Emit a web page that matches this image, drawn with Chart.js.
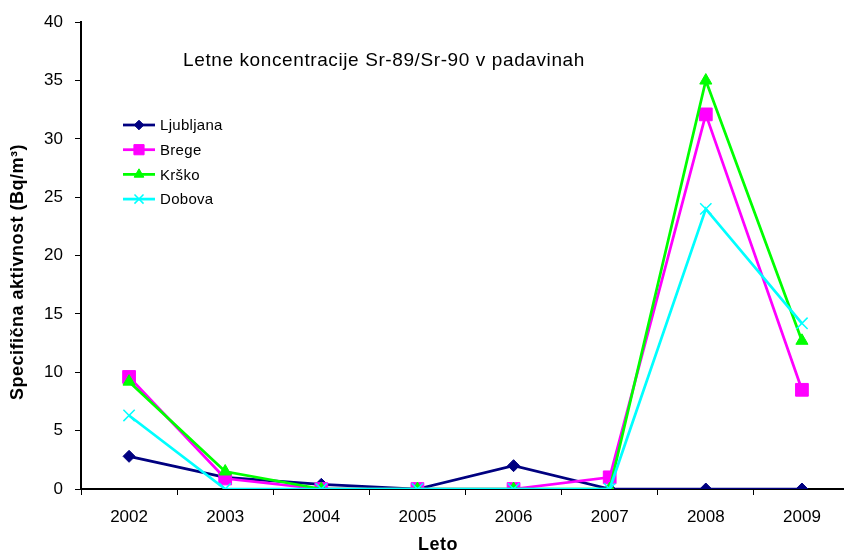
<!DOCTYPE html>
<html>
<head>
<meta charset="utf-8">
<script src="https://cdn.jsdelivr.net/npm/chart.js@4.4.1/dist/chart.umd.min.js"></script>
<style>
  html, body { margin: 0; padding: 0; background: #fff; overflow: hidden; }
  canvas { display: block; }
</style>
</head>
<body>
<canvas id="chart" width="860" height="553"></canvas>
<script>
// data
const years = ['2002', '2003', '2004', '2005', '2006', '2007', '2008', '2009'];
const ljubljana = [2.8, 1.0, 0.4, 0, 2.0, 0, 0, 0];
const brege = [9.6, 0.9, 0, 0, 0, 1.0, 32.1, 8.5];
const krsko = [9.2, 1.5, 0, 0, 0, 0, 35.0, 12.7];
const dobova = [6.3, 0, 0, 0, 0, 0, 24.0, 14.2];
const yTicks = [0, 5, 10, 15, 20, 25, 30, 35, 40];

const chartTitle = 'Letne koncentracije Sr-89/Sr-90 v padavinah';
const xTitle = 'Leto';
const yTitle = 'Specifična aktivnost (Bq/m³)';
const FONT = '"Liberation Sans", Arial, sans-serif';

const series = [
  { label: 'Ljubljana', data: ljubljana, color: '#000080', style: 'rectRot', radius: 6, order: 4 },
  { label: 'Brege', data: brege, color: '#FF00FF', style: 'rect', radius: 9, order: 3 },
  { label: 'Krško', data: krsko, color: '#00FF00', style: 'triangle', radius: 7, order: 2 },
  { label: 'Dobova', data: dobova, color: '#00FFFF', style: 'crossRot', radius: 8, order: 1 }
];

// title, legend and axis titles drawn by hand (spaced-out Excel look)
const insideText = {
  id: 'insideText',
  afterDraw(chart) {
    const ctx = chart.ctx;
    ctx.save();
    ctx.fillStyle = '#000';
    ctx.textBaseline = 'middle';

    ctx.font = '19px ' + FONT;
    ctx.letterSpacing = '0.6px';
    ctx.textAlign = 'center';
    ctx.fillText(chartTitle, 384, 61);

    ctx.font = 'bold 18px ' + FONT;
    ctx.letterSpacing = '0.5px';
    ctx.fillText(xTitle, 438, 545);
    ctx.save();
    ctx.translate(18, 272);
    ctx.rotate(-Math.PI / 2);
    ctx.fillText(yTitle, 0, 0);
    ctx.restore();

    ctx.textAlign = 'left';
    ctx.font = '15px ' + FONT;
    ctx.letterSpacing = '0.3px';
    series.forEach((s, i) => {
      const y = 125 + i * 24.7;
      ctx.strokeStyle = s.color;
      ctx.lineWidth = 2.75;
      ctx.beginPath();
      ctx.moveTo(123, y);
      ctx.lineTo(155, y);
      ctx.stroke();
      ctx.fillStyle = s.color;
      ctx.lineWidth = s.style === 'crossRot' ? 1.5 : 1;
      Chart.helpers.drawPoint(ctx, {
        pointStyle: s.style, radius: s.radius * 0.8, rotation: 0, borderWidth: ctx.lineWidth
      }, 139, y);
      ctx.fillStyle = '#000';
      ctx.fillText(s.label, 160, y + 1);
    });
    ctx.restore();
  }
};

new Chart(document.getElementById('chart'), {
  type: 'line',
  data: {
    labels: years,
    datasets: series.map(s => ({
      label: s.label,
      data: s.data,
      borderColor: s.color,
      backgroundColor: s.color,
      borderWidth: 2.75,
      pointStyle: s.style,
      pointRadius: s.radius,
      pointBorderWidth: s.style === 'crossRot' ? 1.5 : 1,
      pointBorderColor: s.color,
      pointBackgroundColor: s.color,
      tension: 0,
      order: s.order
    }))
  },
  options: {
    responsive: false,
    devicePixelRatio: 1,
    animation: false,
    layout: { padding: { top: 17, right: 3, left: 0, bottom: 0 } },
    plugins: {
      legend: { display: false },
      title: { display: false },
      tooltip: { enabled: false }
    },
    scales: {
      x: {
        offset: true,
        grid: { offset: true, drawOnChartArea: false, tickLength: 6, color: '#000', tickWidth: 1 },
        border: { color: '#000', width: 2 },
        ticks: { color: '#000', padding: 12, font: { family: FONT, size: 17 } },
        afterFit(scale) { scale.height = 64; }
      },
      y: {
        min: 0,
        max: 40,
        afterBuildTicks(scale) { scale.ticks = yTicks.map(v => ({ value: v })); },
        grid: { drawOnChartArea: false, tickLength: 6, color: '#000', tickWidth: 1 },
        border: { color: '#000', width: 2 },
        ticks: { color: '#000', padding: 12, font: { family: FONT, size: 17 } },
        afterFit(scale) { scale.width = 81; }
      }
    }
  },
  plugins: [insideText]
});
</script>
</body>
</html>
